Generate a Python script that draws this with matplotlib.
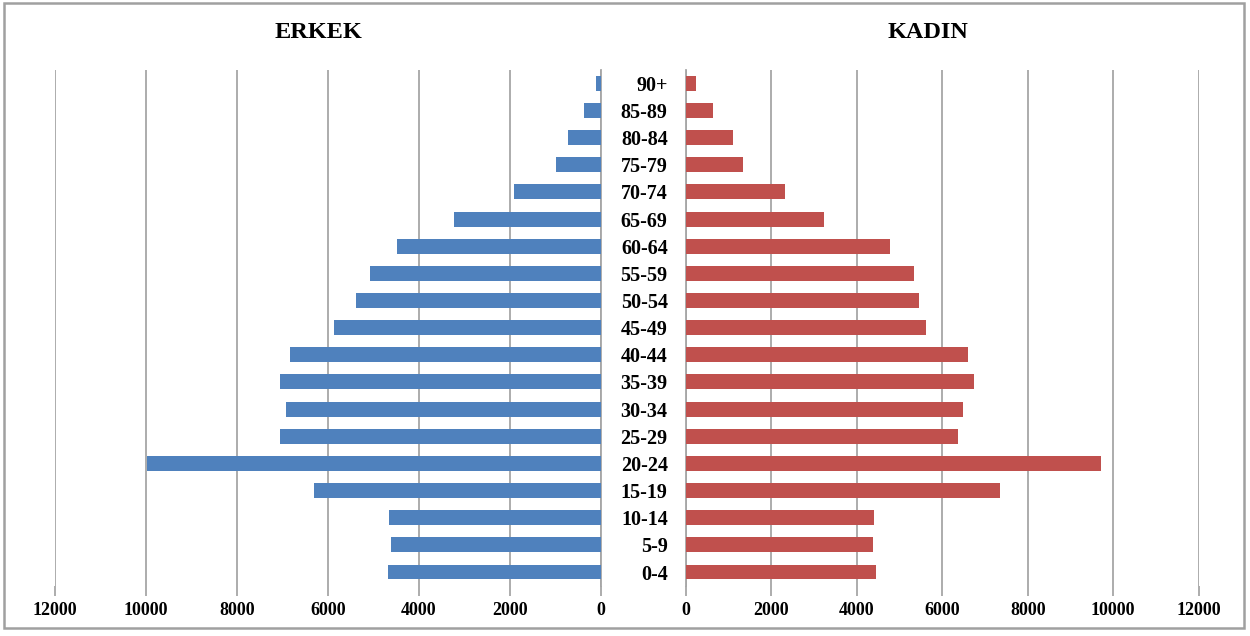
import numpy as np
import matplotlib
matplotlib.use("Agg")
import matplotlib.pyplot as plt
from matplotlib.patches import Rectangle

# age groups, bottom to top
age_groups = ["0-4", "5-9", "10-14", "15-19", "20-24", "25-29", "30-34", "35-39",
              "40-44", "45-49", "50-54", "55-59", "60-64", "65-69", "70-74",
              "75-79", "80-84", "85-89", "90+"]
erkek = [4690, 4620, 4660, 6300, 9980, 7060, 6930, 7060, 6830, 5875, 5380,
         5085, 4485, 3240, 1910, 990, 730, 365, 100]
kadin = [4450, 4380, 4410, 7350, 9720, 6380, 6490, 6740, 6600, 5630, 5460,
         5350, 4790, 3245, 2330, 1350, 1100, 640, 250]
x_ticks = [0, 2000, 4000, 6000, 8000, 10000, 12000]

plt.rcParams['font.family'] = ['Liberation Serif', 'DejaVu Serif']
plt.rcParams['font.weight'] = 'bold'

W, H = 1250, 636
fig = plt.figure(figsize=(W / 100, H / 100), dpi=100)

top, bottom = 69.7, 585.6
ax_l = fig.add_axes([55 / W, 1 - bottom / H, (601 - 55) / W, (bottom - top) / H])
ax_r = fig.add_axes([685.7 / W, 1 - bottom / H, (1198.7 - 685.7) / W, (bottom - top) / H])

y = np.arange(len(age_groups))
grid_col = '#a6a6a6'

ax_l.barh(y, erkek, height=0.55, color='#4f81bd', zorder=3)
ax_r.barh(y, kadin, height=0.55, color='#c0504d', zorder=3)

for ax in (ax_l, ax_r):
    ax.set_ylim(-0.5, len(age_groups) - 0.5)
    ax.set_xticks(x_ticks)
    ax.set_xticklabels([str(t) for t in x_ticks], fontsize=13, fontweight='bold')
    ax.grid(axis='x', color=grid_col, linewidth=1.3, zorder=0)
    ax.tick_params(axis='x', length=7, width=1.3, color=grid_col, pad=5)
    for s in ('top', 'bottom', 'left', 'right'):
        ax.spines[s].set_visible(False)

ax_l.set_xlim(12000, 0)
ax_r.set_xlim(0, 12000)
ax_l.set_yticks([])

ax_r.set_yticks(y)
ax_r.set_yticklabels(age_groups, fontsize=14.5, fontweight='bold')
ax_r.tick_params(axis='y', length=0, pad=13)

ax_l.spines['right'].set_visible(True)
ax_l.spines['right'].set_color(grid_col)
ax_l.spines['right'].set_linewidth(1.3)
ax_r.spines['left'].set_visible(True)
ax_r.spines['left'].set_color(grid_col)
ax_r.spines['left'].set_linewidth(1.3)

fig.text(318 / W, 1 - 33 / H, "ERKEK", ha='center', va='center',
         fontsize=17.5, fontweight='bold')
fig.text(928 / W, 1 - 32 / H, "KADIN", ha='center', va='center',
         fontsize=17.5, fontweight='bold')

# outer chart border
fig.patches.append(Rectangle((4 / W, 1 - 628 / H), 1240 / W, 625 / H,
                             transform=fig.transFigure, fill=False,
                             edgecolor='#a0a0a0', linewidth=1.8))

fig.savefig("out.png", dpi=100)
